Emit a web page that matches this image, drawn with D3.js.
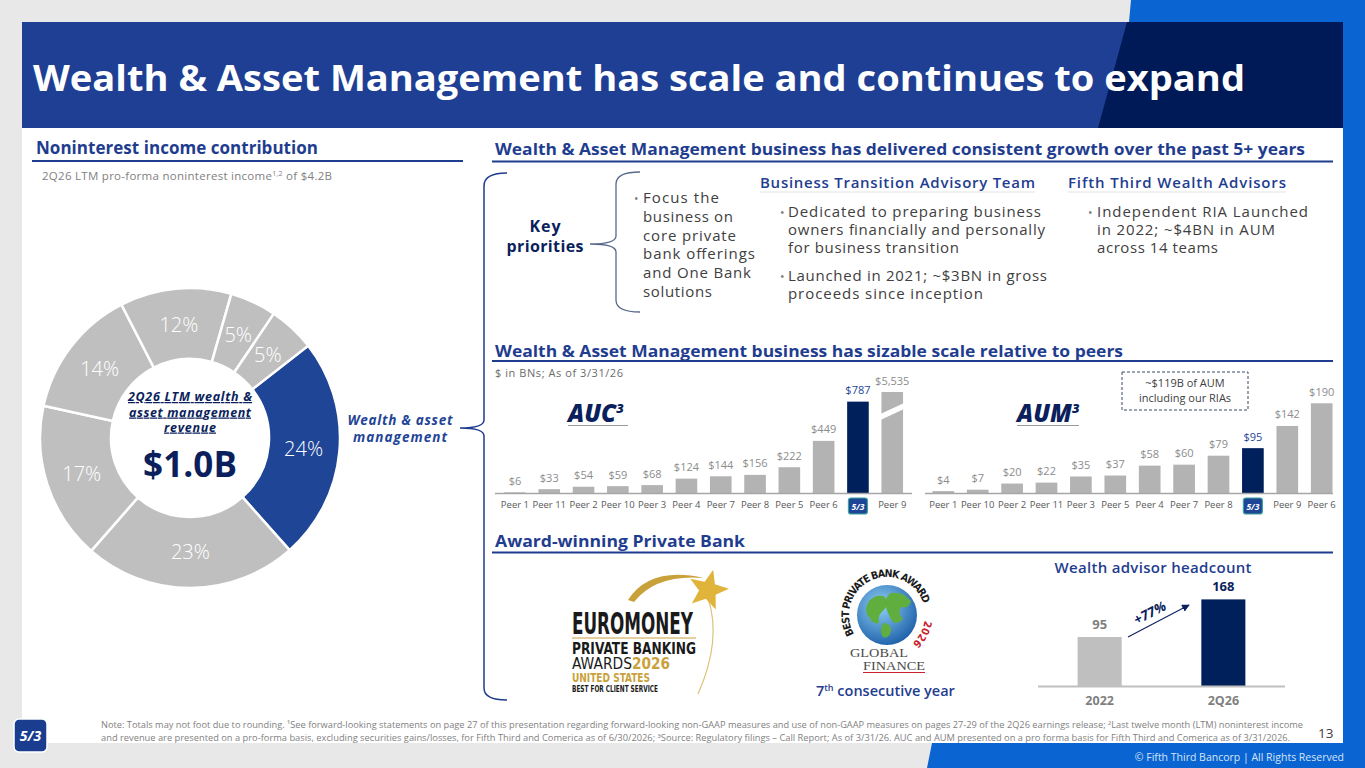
<!DOCTYPE html>
<html><head><meta charset="utf-8">
<script src="https://cdn.jsdelivr.net/npm/d3@7"></script>
<style>body{margin:0;background:#e8e8e8;overflow:hidden}svg{display:block;font-family:'Open Sans','Noto Sans',sans-serif}</style>
</head><body><svg id="c" width="1365" height="768"></svg>
<script>
// ---------- DATA ----------
const donutCategories = ["Wealth & asset management","Segment B","Segment C","Segment D","Segment E","Segment F","Segment G"];
const donutValues = [24,23,17,14,12,5,5];
const aucCategories = ["Peer 1","Peer 11","Peer 2","Peer 10","Peer 3","Peer 4","Peer 7","Peer 8","Peer 5","Peer 6","Fifth Third","Peer 9"];
const aucValues = [6,33,54,59,68,124,144,156,222,449,787,5535];
const aumCategories = ["Peer 1","Peer 10","Peer 2","Peer 11","Peer 3","Peer 5","Peer 4","Peer 7","Peer 8","Fifth Third","Peer 9","Peer 6"];
const aumValues = [4,7,20,22,35,37,58,60,79,95,142,190];
const headcountYears = ["2022","2Q26"];
const headcountValues = [95,168];

// ---------- COLORS ----------
const NAVY="#0b1f5c", BLUE="#1f4597", HEAD="#1f3d8f", GRAY="#b3b3b3", DGRAY="#404040", BARNAVY="#00205b";

const svg=d3.select("#c");
function T(p,x,y,s,o={}){
  const t=p.append("text").attr("x",x).attr("y",y).text(s)
    .attr("font-size",o.size||12).attr("fill",o.fill||DGRAY);
  if(o.weight)t.attr("font-weight",o.weight);
  if(o.italic)t.attr("font-style","italic");
  if(o.anchor)t.attr("text-anchor",o.anchor);
  if(o.family)t.attr("font-family",o.family);
  if(o.w)t.attr("textLength",o.w).attr("lengthAdjust",o.adj||"spacing");
  if(o.deco)t.attr("text-decoration",o.deco);
  return t;
}
function line(x1,y1,x2,y2,c,w){svg.append("line").attr("x1",x1).attr("y1",y1).attr("x2",x2).attr("y2",y2).attr("stroke",c).attr("stroke-width",w);}

// ---------- BACKGROUND ----------
svg.append("rect").attr("width",1365).attr("height",768).attr("fill","#e8e8e8");
svg.append("rect").attr("x",22).attr("y",22).attr("width",1321).attr("height",721).attr("fill","#fff");
svg.append("path").attr("d","M1131,0 L1365,0 L1365,768 L927,768 L932,743 L1343,743 L1343,22 L1129,22 Z").attr("fill","#0a64d2");
svg.append("rect").attr("x",22).attr("y",22).attr("width",1321).attr("height",106).attr("fill","#1e3f94");
svg.append("path").attr("d","M1127,22 L1343,22 L1343,128 L1098,128 Z").attr("fill","#001a57");
T(svg,33,91,"Wealth & Asset Management has scale and continues to expand",{size:35,weight:700,fill:"#fff",w:1212,adj:"spacingAndGlyphs"});

// ---------- SECTION HEADERS ----------
T(svg,36,154,"Noninterest income contribution",{size:17,weight:700,fill:HEAD,w:282});
line(32,161,463,161,HEAD,2.2);
T(svg,495,155,"Wealth & Asset Management business has delivered consistent growth over the past 5+ years",{size:15.5,weight:700,fill:HEAD,w:810,adj:"spacingAndGlyphs"});
line(492,161.5,1333,161.5,HEAD,2.2);
T(svg,495,357,"Wealth & Asset Management business has sizable scale relative to peers",{size:15.5,weight:700,fill:HEAD,w:628,adj:"spacingAndGlyphs"});
line(492,361,1333,361,HEAD,2.2);
T(svg,495,547,"Award-winning Private Bank",{size:15.5,weight:700,fill:HEAD,w:250,adj:"spacingAndGlyphs"});
line(492,552.5,1333,552.5,HEAD,2.2);

// subtitle
const st=svg.append("text").attr("x",42).attr("y",180).attr("font-size",11.5).attr("fill","#7f7f7f").attr("textLength",290).attr("lengthAdjust","spacing");
st.append("tspan").text("2Q26 LTM pro-forma noninterest income");
st.append("tspan").attr("font-size",7).attr("dy",-4).text("1,2");
st.append("tspan").attr("dy",4).text(" of $4.2B");

// ---------- DONUT ----------
const cx=190, cy=438;
const pie=d3.pie().sort(null).value(d=>d).startAngle(52*Math.PI/180).endAngle(412*Math.PI/180);
const arc=d3.arc().innerRadius(79).outerRadius(150);
const lArc=d3.arc().innerRadius(114).outerRadius(114);
const dg=svg.append("g").attr("transform",`translate(${cx},${cy})`);
const pd=pie(donutValues);
dg.selectAll("path").data(pd).join("path").attr("d",arc)
  .attr("fill",(d,i)=>i===0?BLUE:"#bfbfbf").attr("stroke","#fff").attr("stroke-width",2.5);
dg.selectAll("text").data(pd).join("text")
  .attr("transform",d=>`translate(${lArc.centroid(d)})`).attr("text-anchor","middle").attr("dy","0.36em")
  .attr("font-size",20).attr("fill","#fff").attr("font-weight",300).text(d=>d.data+"%");
T(svg,cx,401,"2Q26 LTM wealth &",{size:12.5,weight:700,italic:true,fill:NAVY,anchor:"middle",w:124,deco:"underline"});
T(svg,cx,416.5,"asset management",{size:12.5,weight:700,italic:true,fill:NAVY,anchor:"middle",w:122,deco:"underline"});
T(svg,cx,431.5,"revenue",{size:12.5,weight:700,italic:true,fill:NAVY,anchor:"middle",w:52,deco:"underline"});
T(svg,cx,477,"$1.0B",{size:35,weight:700,fill:NAVY,anchor:"middle",w:94});
T(svg,400,425,"Wealth & asset",{size:13.5,weight:700,italic:true,fill:BLUE,anchor:"middle",w:105});
T(svg,400,442,"management",{size:13.5,weight:700,italic:true,fill:BLUE,anchor:"middle",w:94});

// ---------- BRACES ----------
svg.append("path").attr("d","M507,173 Q484,173 484,186 L484,420 Q484,428 460,428 Q484,428 484,436 L484,688 Q484,700 507,700")
  .attr("fill","none").attr("stroke",HEAD).attr("stroke-width",1.5);
svg.append("path").attr("d","M640,172 Q616,172 616,184 L616,236 Q616,244 590,244 Q616,244 616,252 L616,300 Q616,312 640,312")
  .attr("fill","none").attr("stroke","#5a6a8a").attr("stroke-width",1.3);

// ---------- KEY PRIORITIES ----------
T(svg,545,232,"Key",{size:16,weight:700,fill:NAVY,anchor:"middle",w:31});
T(svg,545,251.5,"priorities",{size:16,weight:700,fill:NAVY,anchor:"middle",w:77});
function bulletBlock(bx,tx,ys,lines,ws){
  T(svg,bx,ys[0],"•",{size:12,fill:"#7f7f7f"});
  lines.forEach((l,i)=>T(svg,tx,ys[i],l,{size:15,fill:DGRAY,w:ws[i]}));
}
bulletBlock(634,643,[203,222,241,259,278,297],["Focus the","business on","core private","bank offerings","and One Bank","solutions"],[76,90,93,112,108,69]);
T(svg,760,188,"Business Transition Advisory Team",{size:15,weight:600,fill:HEAD,w:275});
line(760,192,1035,192,"#e3e3e3",1);
T(svg,1068,188,"Fifth Third Wealth Advisors",{size:15,weight:600,fill:HEAD,w:218});
line(1068,192,1286,192,"#e3e3e3",1);
bulletBlock(780,788,[217,235,253],["Dedicated to preparing business","owners financially and personally","for business transition"],[253,257,171]);
bulletBlock(780,788,[281,299],["Launched in 2021; ~$3BN in gross","proceeds since inception"],[259,195]);
bulletBlock(1088,1097,[217,235,253],["Independent RIA Launched","in 2022; ~$4BN in AUM","across 14 teams"],[211,178,121]);

// ---------- PEER CHARTS ----------
T(svg,495,377,"$ in BNs; As of 3/31/26",{size:11,fill:"#6b6b6b",w:128});
const fmt=v=>"$"+d3.format(",")(v);
function miniLogo(x,y){
  svg.append("rect").attr("x",x-9.5).attr("y",y).attr("width",19).attr("height",16).attr("rx",2.5)
    .attr("fill",BLUE).attr("stroke","#3aa39a").attr("stroke-width",1.2);
  T(svg,x,y+11.5,"5/3",{size:8.5,weight:700,fill:"#fff",anchor:"middle",italic:true});
}
function peerChart(cats,vals,x,y,cap,base){
  const g=svg.append("g");
  g.selectAll("rect").data(vals).join("rect")
    .attr("x",(d,i)=>x(cats[i])).attr("width",x.bandwidth())
    .attr("y",d=>y(Math.min(d,cap))).attr("height",d=>base-y(Math.min(d,cap)))
    .attr("fill",(d,i)=>cats[i]==="Fifth Third"?BARNAVY:GRAY);
  g.selectAll("text.v").data(vals).join("text").attr("class","v")
    .attr("x",(d,i)=>x(cats[i])+x.bandwidth()/2).attr("y",d=>y(Math.min(d,cap))-7.5)
    .attr("text-anchor","middle").attr("font-size",11)
    .attr("fill",(d,i)=>cats[i]==="Fifth Third"?BLUE:"#8c8c8c").text(fmt);
  cats.forEach((c,i)=>{
    const mx=x(c)+x.bandwidth()/2;
    if(c==="Fifth Third")miniLogo(mx,498);
    else T(svg,mx,507.5,c,{size:9.5,fill:"#595959",anchor:"middle"});
    if(vals[i]>cap){
      const x0=x(c)-1,x1=x(c)+x.bandwidth()+1;
      svg.append("path").attr("d",`M${x0},${414} L${x1},${403} L${x1},${409} L${x0},${420} Z`).attr("fill","#fff");
    }
  });
}
const aucX=d3.scaleBand().domain(aucCategories).range([497.8,909.4]).paddingInner(0.37).paddingOuter(0.185);
const aucCap=870;
const aucY=d3.scaleLinear().domain([0,aucCap]).range([493,392]);
peerChart(aucCategories,aucValues,aucX,aucY,aucCap,493);
line(495,493.5,912,493.5,"#a6a6a6",1.5);
const aumX=d3.scaleBand().domain(aumCategories).range([926.1,1338.9]).paddingInner(0.37).paddingOuter(0.185);
const aumY=d3.scaleLinear().domain([0,190]).range([493,403.3]);
peerChart(aumCategories,aumValues,aumX,aumY,Infinity,493);
line(925,493.5,1333,493.5,"#a6a6a6",1.5);

function bigLabel(x,y,s,w){
  const t=svg.append("text").attr("x",x).attr("y",y).attr("font-size",24).attr("font-weight",800).attr("font-style","italic").attr("fill",NAVY);
  t.append("tspan").text(s);
  t.append("tspan").attr("font-size",13).attr("dy",-9).text("3");
  line(x,425.5,x+w,425.5,"#9a9a9a",1);
}
bigLabel(568,422,"AUC",60);
bigLabel(1017,422,"AUM",62);
svg.append("rect").attr("x",1122).attr("y",372).attr("width",126).attr("height",38)
  .attr("fill","none").attr("stroke","#3a4a6a").attr("stroke-width",1).attr("stroke-dasharray","3,2");
T(svg,1185,387,"~$119B of AUM",{size:11,fill:DGRAY,anchor:"middle"});
T(svg,1185,402,"including our RIAs",{size:11,fill:DGRAY,anchor:"middle"});

// ---------- HEADCOUNT ----------
T(svg,1153,573,"Wealth advisor headcount",{size:15,weight:600,fill:HEAD,anchor:"middle",w:197});
const hcX=d3.scaleBand().domain(headcountYears).range([1037.8,1285.2]).paddingInner(0.644).paddingOuter(0.322);
const hcY=d3.scaleLinear().domain([0,168]).range([686,599.4]);
svg.append("g").selectAll("rect").data(headcountValues).join("rect")
  .attr("x",(d,i)=>hcX(headcountYears[i])).attr("width",hcX.bandwidth())
  .attr("y",d=>hcY(d)).attr("height",d=>686-hcY(d)).attr("fill",(d,i)=>i===1?BARNAVY:"#bfbfbf");
svg.append("g").selectAll("text").data(headcountValues).join("text")
  .attr("x",(d,i)=>hcX(headcountYears[i])+hcX.bandwidth()/2).attr("y",d=>hcY(d)-8.5)
  .attr("text-anchor","middle").attr("font-size",13).attr("font-weight",700)
  .attr("fill",(d,i)=>i===1?NAVY:"#7f7f7f").text(d=>d);
headcountYears.forEach(c=>T(svg,hcX(c)+hcX.bandwidth()/2,705,c,{size:12.5,weight:700,fill:"#7f7f7f",anchor:"middle"}));
line(1038,686.5,1285,686.5,"#bfbfbf",2);
svg.append("defs").append("marker").attr("id","ah").attr("viewBox","0 0 10 10").attr("refX",9).attr("refY",5)
  .attr("markerWidth",7).attr("markerHeight",7).attr("orient","auto")
  .append("path").attr("d","M0,0 L10,5 L0,10 Z").attr("fill",NAVY);
svg.append("line").attr("x1",1128).attr("y1",637).attr("x2",1189).attr("y2",605).attr("stroke",NAVY).attr("stroke-width",1.1).attr("marker-end","url(#ah)");
T(svg,0,0,"+77%",{size:13.5,weight:700,italic:true,fill:NAVY,anchor:"middle"}).attr("transform","translate(1152,617) rotate(-27.5)");

// ---------- EUROMONEY LOGO ----------
const GOLD="#c9a13b";
svg.append("path").attr("d","M628,600 Q650,566 704,578 Q656,574 634,602 Z").attr("fill",GOLD);
svg.append("path").attr("d","M708,598 Q722,640 698,694").attr("fill","none").attr("stroke","#dcc27a").attr("stroke-width",1.2);
(function(){const c=[708,590],R=21,r=9,pts=[];for(let i=0;i<10;i++){const a=-Math.PI/2+i*Math.PI/5+0.25;const rr=i%2?r:R;pts.push([c[0]+rr*Math.cos(a),c[1]+rr*Math.sin(a)]);}
svg.append("path").attr("d","M"+pts.join("L")+"Z").attr("fill","#e0b43a");})();
const CF="'DejaVu Sans Condensed','Liberation Sans Narrow',sans-serif";
T(svg,572,634,"EUROMONEY",{size:31,weight:700,fill:"#1a1a1a",family:CF,w:121,adj:"spacingAndGlyphs"});
line(572,638,696,638,GOLD,1);
T(svg,572,654,"PRIVATE BANKING",{size:16.5,weight:700,fill:"#1a1a1a",family:CF,w:124,adj:"spacingAndGlyphs"});
T(svg,572,669,"AWARDS",{size:15,fill:"#1a1a1a",family:CF,w:60,adj:"spacingAndGlyphs"});
T(svg,632,669,"2026",{size:15,weight:700,fill:GOLD,family:CF,w:38,adj:"spacingAndGlyphs"});
T(svg,572,682,"UNITED STATES",{size:12.5,weight:700,fill:GOLD,family:CF,w:78,adj:"spacingAndGlyphs"});
T(svg,572,692,"BEST FOR CLIENT SERVICE",{size:8,weight:700,fill:"#1a1a1a",family:CF,w:86,adj:"spacingAndGlyphs"});

// ---------- GLOBAL FINANCE ----------
const gdefs=svg.select("defs");
const rg=gdefs.append("radialGradient").attr("id","glb").attr("cx","40%").attr("cy","35%").attr("r","70%");
rg.append("stop").attr("offset","0%").attr("stop-color","#8fd0f5");
rg.append("stop").attr("offset","100%").attr("stop-color","#1b5ea8");
const gx=887, gy=615;
svg.append("circle").attr("cx",gx).attr("cy",gy).attr("r",30).attr("fill","url(#glb)");
svg.append("path").attr("d",`M${gx-18},${gy-14} q8,-8 16,-4 q4,8 -2,14 q-6,4 -4,12 q-6,2 -10,-6 q-6,-6 0,-16 Z`).attr("fill","#5fae3e");
svg.append("path").attr("d",`M${gx+4},${gy-22} q12,-2 20,8 q-2,8 -10,6 q-4,6 2,12 q-8,8 -12,0 q-4,-8 -6,-14 q0,-8 6,-12 Z`).attr("fill","#5fae3e");
svg.append("path").attr("d",`M${gx-4},${gy+8} q8,0 8,8 q-2,8 -8,6 q-4,-6 0,-14 Z`).attr("fill","#5fae3e");
const ar=38, a0=-120*Math.PI/180, a1=140*Math.PI/180;
const p0=[gx+ar*Math.sin(a0),gy-ar*Math.cos(a0)], p1=[gx+ar*Math.sin(a1),gy-ar*Math.cos(a1)];
gdefs.append("path").attr("id","ring").attr("d",`M${p0} A${ar},${ar} 0 1 1 ${p1}`);
const rt=svg.append("text").attr("font-size",10.5).attr("font-weight",700).attr("font-family",CF).attr("fill","#1a1a1a");
rt.append("textPath").attr("href","#ring").attr("startOffset",0).attr("textLength",128).attr("lengthAdjust","spacing").text("BEST PRIVATE BANK AWARD");
const rt2=svg.append("text").attr("font-size",10.5).attr("font-weight",700).attr("font-family",CF).attr("fill","#c8202c");
rt2.append("textPath").attr("href","#ring").attr("startOffset",ar*(218*Math.PI/180)).text("2026");
const SF="'Liberation Serif','DejaVu Serif',serif";
T(svg,850,657,"GLOBAL",{size:12,fill:"#4a4a4a",family:SF,w:58,adj:"spacingAndGlyphs"});
T(svg,863,670,"FINANCE",{size:12,fill:"#4a4a4a",family:SF,w:62,adj:"spacingAndGlyphs"});
line(863,672.5,925,672.5,"#c8202c",1.2);
const cy7=svg.append("text").attr("x",816).attr("y",696).attr("font-size",14.5).attr("font-weight",600).attr("fill",HEAD);
cy7.append("tspan").text("7");
cy7.append("tspan").attr("font-size",9).attr("dy",-5).text("th");
cy7.append("tspan").attr("dy",5).text(" consecutive year");

// ---------- FOOTER ----------
T(svg,101,728,"Note: Totals may not foot due to rounding. ¹See forward-looking statements on page 27 of this presentation regarding forward-looking non-GAAP measures and use of non-GAAP measures on pages 27-29 of the 2Q26 earnings release; ²Last twelve month (LTM) noninterest income",{size:8.6,fill:"#7f7f7f",w:1202,adj:"spacingAndGlyphs"});
T(svg,101,740.5,"and revenue are presented on a pro-forma basis, excluding securities gains/losses, for Fifth Third and Comerica as of 6/30/2026; ³Source: Regulatory filings – Call Report; As of 3/31/26. AUC and AUM presented on a pro forma basis for Fifth Third and Comerica as of 3/31/2026.",{size:8.6,fill:"#7f7f7f",w:1189,adj:"spacingAndGlyphs"});
T(svg,1318,738,"13",{size:13.5,fill:DGRAY});
T(svg,1344,760.5,"© Fifth Third Bancorp | All Rights Reserved",{size:10.5,fill:"#d6e4f7",anchor:"end"});
svg.append("rect").attr("x",14).attr("y",719).attr("width",33).attr("height",33).attr("rx",5).attr("fill","#1a3d8f").attr("stroke","#fff").attr("stroke-width",1.5);
T(svg,30.5,741,"5/3",{size:14,weight:700,italic:true,fill:"#fff",anchor:"middle"});
</script></body></html>
